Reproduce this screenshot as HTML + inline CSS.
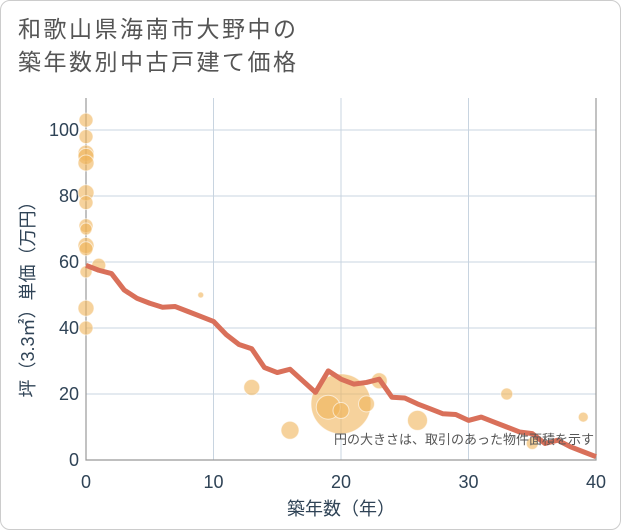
<!DOCTYPE html>
<html><head><meta charset="utf-8"><style>
body{margin:0;background:#fff;font-family:"Liberation Sans","Noto Sans CJK JP",sans-serif}
#card{position:absolute;left:0;top:0;width:619px;height:528px;border:1px solid #ccc;border-radius:10px;background:#fff}
#title{position:absolute;left:18px;top:13px;font-size:23px;line-height:33px;color:#555;letter-spacing:2.5px}
</style></head><body>
<div id="card"></div>
<div id="title">和歌山県海南市大野中の<br>築年数別中古戸建て価格</div>
<svg id="chart" width="621" height="530" style="position:absolute;left:0;top:0"></svg>
<script>
const xTicks=[0,10,20,30,40];
const yTicks=[0,20,40,60,80,100];
const lineYears=[0,1,2,3,4,5,6,7,8,9,10,11,12,13,14,15,16,17,18,19,20,21,22,23,24,25,26,27,28,29,30,31,32,33,34,35,36,37,38,39,40];
const lineValues=[59,57.5,56.5,51.5,49,47.5,46.3,46.5,45,43.5,42,38,35,33.7,28,26.5,27.5,24,20.5,27,24.5,23,23.5,24.5,19,18.8,17,15.5,14,13.8,12,13,11.5,10,8.5,8,5,6,4,2.5,1];
const bubbleX=[0,0,0,0,0,0,0,0,0,0,0,0,0,0,1,9,13,16,20,19,20,22,23,26,33,35,39];
const bubbleY=[103,98,93,92,90,81,78,71,70,65,64,57,46,40,59,50,22,9,17,16,15,17,24,12,20,5,13];
const bubbleR=[7,7,8,8,8,8,7,7,6,8,7,6,8,7,7,3,8,9,30,12,8,8,8,10,6,6,5];
const X0=86,X1=596,Y0=460,Y1=130;
const sx=v=>X0+(X1-X0)*v/40, sy=v=>Y0-(Y0-Y1)*v/100;
const svg=document.getElementById('chart'),NS='http://www.w3.org/2000/svg';
function mk(t,a,p){const e=document.createElementNS(NS,t);for(const k in a)e.setAttribute(k,a[k]);(p||svg).appendChild(e);return e;}
xTicks.forEach(t=>{const l=mk('line',{x1:sx(t),x2:sx(t),y1:98,y2:Y0,stroke:'#c8d4e0','stroke-width':1});


const tx=mk('text',{x:sx(t),y:488,'text-anchor':'middle','font-size':18,fill:'#2f4356'});tx.textContent=t;

});
yTicks.forEach(t=>{const l=mk('line',{x1:X0,x2:X1,y1:sy(t),y2:sy(t),stroke:'#c8d4e0','stroke-width':1});


const tx=mk('text',{x:79,y:sy(t)+6,'text-anchor':'end','font-size':18,fill:'#2f4356'});tx.textContent=t;

});
const ax=mk('path',{d:`M${X0},98V${Y0}H${X1}V98`,fill:'none',stroke:'#999','stroke-width':1.2});


bubbleX.forEach((x,i)=>{const c=mk('circle',{cx:sx(x),cy:sy(bubbleY[i]),r:bubbleR[i],fill:'rgba(240,180,90,0.6)',stroke:'rgba(255,255,255,0.6)','stroke-width':1});

});
const d=lineYears.map((x,i)=>(i?'L':'M')+sx(x)+','+sy(lineValues[i])).join('');
const p=mk('path',{d:d,fill:'none',stroke:'#d9705a','stroke-width':5,'stroke-linejoin':'round'});


const note=mk('text',{x:594,y:444,'text-anchor':'end','font-size':13,fill:'#555'});note.textContent='円の大きさは、取引のあった物件面積を示す';


const xt=mk('text',{x:341,y:515,'text-anchor':'middle','font-size':18,fill:'#2f4356'});xt.textContent='築年数（年）';


const yt=mk('text',{x:0,y:0,'text-anchor':'middle','font-size':18,fill:'#2f4356',transform:'translate(34,295) rotate(-90)'});yt.textContent='坪（3.3㎡）単価（万円）';


</script>
</body></html>
